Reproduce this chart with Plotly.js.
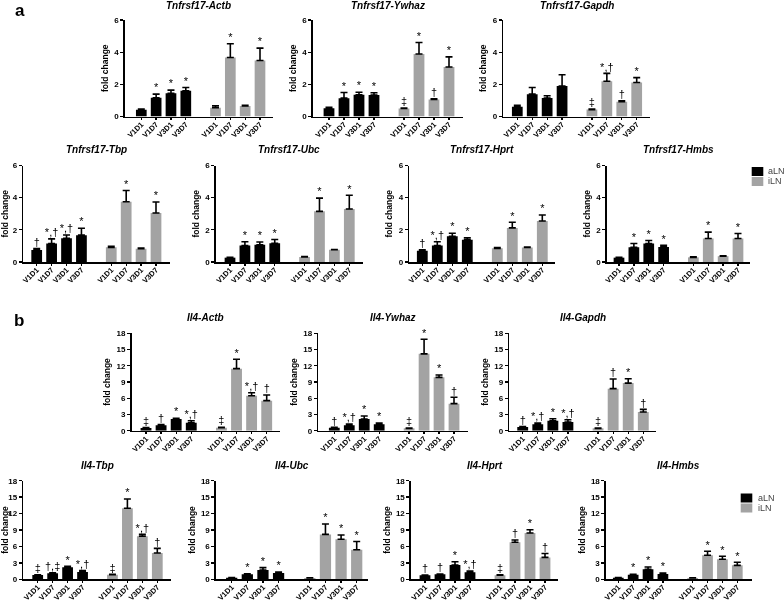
<!DOCTYPE html>
<html>
<head>
<meta charset="utf-8">
<script src="https://cdn.plot.ly/plotly-3.0.1.min.js"></script>
<style>html,body{margin:0;padding:0;background:#fff;}#chart{width:784px;height:601px;}#chart .main-svg{will-change:transform;}</style>
</head>
<body>
<div id="chart"></div>
<script>
// ---------- data ----------
const timepoints = ["V1D1", "V1D7", "V3D1", "V3D7"];
const groups = ["aLN", "iLN"];

// Panel a: Tnfrsf17 (order: aLN V1D1..V3D7, iLN V1D1..V3D7)
const tnfActbMean  = [0.42, 1.16, 1.45, 1.60, 0.54, 3.67, 0.66, 3.48];
const tnfActbErr   = [0.04, 0.23, 0.19, 0.20, 0.12, 0.85, 0.03, 0.77];
const tnfActbSig   = ["", "*", "*", "*", "", "*", "", "*"];

const tnfYwhazMean = [0.52, 1.14, 1.35, 1.33, 0.50, 3.89, 1.06, 3.08];
const tnfYwhazErr  = [0.05, 0.35, 0.16, 0.15, 0.03, 0.71, 0.04, 0.63];
const tnfYwhazSig  = ["", "*", "*", "*", "‡", "*", "†", "*"];

const tnfGapdhMean = [0.60, 1.39, 1.15, 1.90, 0.43, 2.19, 0.92, 2.11];
const tnfGapdhErr  = [0.10, 0.41, 0.14, 0.70, 0.03, 0.49, 0.05, 0.31];
const tnfGapdhSig  = ["", "", "", "", "‡", "*,†", "†", "*"];

const tnfTbpMean   = [0.74, 1.15, 1.48, 1.67, 0.91, 3.75, 0.82, 3.05];
const tnfTbpErr    = [0.10, 0.29, 0.20, 0.43, 0.06, 0.70, 0.04, 0.68];
const tnfTbpSig    = ["†", "*,†", "*,†", "*", "", "*", "", "*"];

const tnfUbcMean   = [0.27, 1.03, 1.07, 1.17, 0.31, 3.15, 0.76, 3.30];
const tnfUbcErr    = [0.03, 0.23, 0.17, 0.23, 0.03, 0.82, 0.02, 0.85];
const tnfUbcSig    = ["", "*", "*", "*", "", "*", "", "*"];

const tnfHprtMean  = [0.70, 1.03, 1.60, 1.38, 0.85, 2.12, 0.90, 2.55];
const tnfHprtErr   = [0.06, 0.23, 0.19, 0.12, 0.05, 0.35, 0.03, 0.37];
const tnfHprtSig   = ["†", "*,†", "*", "*", "", "*", "", "*"];

const tnfHmbsMean  = [0.27, 0.92, 1.15, 0.94, 0.29, 1.46, 0.36, 1.46];
const tnfHmbsErr   = [0.03, 0.23, 0.19, 0.10, 0.03, 0.40, 0.02, 0.31];
const tnfHmbsSig   = ["", "*", "*", "*", "", "*", "", "*"];

// Panel b: Il4
const il4ActbMean  = [0.49, 1.00, 2.16, 1.48, 0.55, 11.47, 6.47, 5.55];
const il4ActbErr   = [0.10, 0.15, 0.15, 0.37, 0.10, 1.73, 0.55, 1.05];
const il4ActbSig   = ["‡", "†", "*", "*,†", "‡", "*", "*,†", "†"];

const il4YwhazMean = [0.55, 1.00, 2.16, 1.17, 0.43, 14.20, 9.86, 5.00];
const il4YwhazErr  = [0.06, 0.25, 0.55, 0.25, 0.06, 2.70, 0.43, 1.17];
const il4YwhazSig  = ["†", "*,†", "*", "*", "‡", "*", "*", "†"];

const il4GapdhMean = [0.68, 1.17, 1.85, 1.60, 0.43, 7.77, 8.80, 3.45];
const il4GapdhErr  = [0.10, 0.25, 0.37, 0.43, 0.05, 1.78, 0.80, 0.50];
const il4GapdhSig  = ["†", "*,†", "*", "*,†", "‡", "†", "*", "†"];

const il4TbpMean   = [0.79, 1.10, 2.19, 1.34, 0.85, 12.96, 7.85, 4.80];
const il4TbpErr    = [0.05, 0.10, 0.18, 0.24, 0.06, 1.70, 0.36, 0.85];
const il4TbpSig    = ["‡", "†,‡", "*", "*,†", "‡", "*", "*,†", "†"];

const il4UbcMean   = [0.30, 0.91, 1.70, 1.16, 0.24, 8.20, 7.30, 5.40];
const il4UbcErr    = [0.03, 0.10, 0.43, 0.18, 0.03, 1.90, 0.80, 1.50];
const il4UbcSig    = ["", "*", "*", "*", "", "*", "*", "*"];

const il4HprtMean  = [0.73, 0.91, 2.60, 1.28, 0.73, 6.75, 8.45, 4.00];
const il4HprtErr   = [0.06, 0.05, 0.60, 0.24, 0.10, 0.43, 0.60, 0.70];
const il4HprtSig   = ["†", "†", "*", "*,†", "‡", "†", "*", "†"];

const il4HmbsMean  = [0.30, 0.85, 1.82, 0.97, 0.24, 4.38, 3.65, 2.55];
const il4HmbsErr   = [0.03, 0.07, 0.43, 0.18, 0.02, 0.73, 0.55, 0.55];
const il4HmbsSig   = ["", "*", "*", "*", "", "*", "*", "*"];

const panelLetters = ["a", "b"];

// ---------- layout geometry (pixels) ----------
const W = 784, H = 601;
const groupColors = {aLN: "#000000", iLN: "#a3a3a3"};
const FONT = "Liberation Sans, Arial, sans-serif";

const rows = {
  a1: {top: 20,    bottom: 116.5, max: 6,  dtick: 2, titleY: 5.5},
  a2: {top: 165.5, bottom: 262,   max: 6,  dtick: 2, titleY: 149.5},
  b1: {top: 333.3, bottom: 430.7, max: 18, dtick: 3, titleY: 317.5},
  b2: {top: 480.7, bottom: 579.3, max: 18, dtick: 3, titleY: 465.5}
};

const panels = [
  {title: "Tnfrsf17-Actb",  mean: tnfActbMean,  err: tnfActbErr,  sig: tnfActbSig,  row: "a1", x0: 125,   x1: 272.7, f: 141.3, l: 260},
  {title: "Tnfrsf17-Ywhaz", mean: tnfYwhazMean, err: tnfYwhazErr, sig: tnfYwhazSig, row: "a1", x0: 313,   x1: 463,   f: 329,   l: 449},
  {title: "Tnfrsf17-Gapdh", mean: tnfGapdhMean, err: tnfGapdhErr, sig: tnfGapdhSig, row: "a1", x0: 503.3, x1: 650,   f: 517.3, l: 636.7},
  {title: "Tnfrsf17-Tbp",   mean: tnfTbpMean,   err: tnfTbpErr,   sig: tnfTbpSig,   row: "a2", x0: 23.3,  x1: 170,   f: 36.7,  l: 156},
  {title: "Tnfrsf17-Ubc",   mean: tnfUbcMean,   err: tnfUbcErr,   sig: tnfUbcSig,   row: "a2", x0: 216,   x1: 362.7, f: 230,   l: 349.3},
  {title: "Tnfrsf17-Hprt",  mean: tnfHprtMean,  err: tnfHprtErr,  sig: tnfHprtSig,  row: "a2", x0: 409.3, x1: 555,   f: 422.3, l: 542.3},
  {title: "Tnfrsf17-Hmbs",  mean: tnfHmbsMean,  err: tnfHmbsErr,  sig: tnfHmbsSig,  row: "a2", x0: 607,   x1: 750,   f: 619,   l: 738},
  {title: "Il4-Actb",       mean: il4ActbMean,  err: il4ActbErr,  sig: il4ActbSig,  row: "b1", x0: 131.7, x1: 280,   f: 146,   l: 266.7},
  {title: "Il4-Ywhaz",      mean: il4YwhazMean, err: il4YwhazErr, sig: il4YwhazSig, row: "b1", x0: 318.3, x1: 467.7, f: 334.3, l: 454},
  {title: "Il4-Gapdh",      mean: il4GapdhMean, err: il4GapdhErr, sig: il4GapdhSig, row: "b1", x0: 509.3, x1: 656,   f: 522.7, l: 643.3},
  {title: "Il4-Tbp",        mean: il4TbpMean,   err: il4TbpErr,   sig: il4TbpSig,   row: "b2", x0: 23.3,  x1: 170.7, f: 37.7,  l: 157.3},
  {title: "Il4-Ubc",        mean: il4UbcMean,   err: il4UbcErr,   sig: il4UbcSig,   row: "b2", x0: 216,   x1: 368.3, f: 231.7, l: 356.7},
  {title: "Il4-Hprt",       mean: il4HprtMean,  err: il4HprtErr,  sig: il4HprtSig,  row: "b2", x0: 411,   x1: 558,   f: 425,   l: 545},
  {title: "Il4-Hmbs",       mean: il4HmbsMean,  err: il4HmbsErr,  sig: il4HmbsSig,  row: "b2", x0: 606,   x1: 751.7, f: 618.3, l: 737.3}
];

// category keys (unique per group) with a spacer between groups
const keys = [];
const keyGroup = [];
const keyLabel = [];
groups.forEach(g => timepoints.forEach(t => { keys.push(g + " " + t); keyGroup.push(g); keyLabel.push(t); }));
const spacer = "spacer";
const categoryOrder = keys.slice(0, 4).concat([spacer], keys.slice(4));

const traces = [];
const layout = {
  width: W, height: H,
  margin: {l: 0, r: 0, t: 0, b: 0},
  paper_bgcolor: "#ffffff", plot_bgcolor: "rgba(0,0,0,0)",
  showlegend: false,
  barmode: "overlay",
  bargap: 0.28,
  font: {family: FONT, color: "#000"},
  annotations: [],
  shapes: []
};

panels.forEach((p, i) => {
  const n = i + 1;
  const xa = "x" + (n === 1 ? "" : n), ya = "y" + (n === 1 ? "" : n);
  const xName = "xaxis" + (n === 1 ? "" : n), yName = "yaxis" + (n === 1 ? "" : n);
  const r = rows[p.row];
  const w = (p.l - p.f) / 8;

  // spacer category registration (no visible mark)
  traces.push({type: "scatter", mode: "none", x: [spacer], y: [null], xaxis: xa, yaxis: ya, hoverinfo: "skip", showlegend: false});

  traces.push({
    type: "bar", x: keys, y: p.mean, xaxis: xa, yaxis: ya,
    marker: {color: keyGroup.map(g => groupColors[g]), line: {width: 0}},
    error_y: {type: "data", symmetric: false, array: p.err, arrayminus: p.err.map(() => 0),
              color: "#000", thickness: 1.6, width: 3.5},
    showlegend: false, hoverinfo: "x+y"
  });

  traces.push({
    type: "scatter", mode: "text", x: keys, y: p.mean.map((m, j) => m + p.err[j]),
    text: p.sig, textposition: "top center",
    textfont: {family: FONT, size: 11, color: "#000000"},
    xaxis: xa, yaxis: ya, cliponaxis: false, hoverinfo: "skip", showlegend: false
  });

  layout[xName] = {
    domain: [p.x0 / W, p.x1 / W], anchor: ya,
    type: "category", categoryorder: "array", categoryarray: categoryOrder,
    range: [-(p.f - p.x0) / w, 8 + (p.x1 - p.l) / w],
    tickvals: keys, ticktext: keyLabel, tickangle: -45,
    ticks: "outside", ticklen: 2, tickwidth: 1.3, tickcolor: "#000",
    ticklabelstandoff: -3,
    showline: true, linewidth: 1.6, linecolor: "#000",
    showgrid: false, zeroline: false, fixedrange: true,
    tickfont: {family: FONT, size: 7.5, weight: "bold", color: "#000"}
  };
  layout[yName] = {
    domain: [1 - r.bottom / H, 1 - r.top / H], anchor: xa,
    range: [0, r.max], dtick: r.dtick, tick0: 0,
    ticks: "outside", ticklen: 3, tickwidth: 1.3, tickcolor: "#000",
    showline: true, linewidth: 1.6, linecolor: "#000",
    showgrid: false, zeroline: false, fixedrange: true,
    tickfont: {family: FONT, size: 8, weight: "bold", color: "#000"},
    title: {text: "fold change", font: {family: FONT, size: 8.5, weight: "bold", color: "#000"}, standoff: 4}
  };

  layout.annotations.push({
    text: p.title, xref: "paper", yref: "paper",
    x: ((p.x0 + p.x1) / 2) / W, y: 1 - r.titleY / H,
    xanchor: "center", yanchor: "middle", showarrow: false,
    font: {family: FONT, size: 10, weight: "bold", style: "italic", color: "#000"}
  });
});

// panel letters
[[panelLetters[0], 20, 11], [panelLetters[1], 19, 320]].forEach(([t, x, y]) => {
  layout.annotations.push({text: t, xref: "paper", yref: "paper", x: x / W, y: 1 - y / H,
    xanchor: "center", yanchor: "middle", showarrow: false,
    font: {family: FONT, size: 17, weight: "bold", color: "#000"}});
});

// legends (one per panel)
[{sx: 751.7, sy: 167, tx: 766}, {sx: 740.7, sy: 493.5, tx: 756}].forEach(L => {
  groups.forEach((g, k) => {
    const y0 = L.sy + k * 10, y1 = y0 + 9;
    layout.shapes.push({type: "rect", xref: "paper", yref: "paper",
      x0: L.sx / W, x1: (L.sx + 11.6) / W, y0: 1 - y1 / H, y1: 1 - y0 / H,
      fillcolor: groupColors[g], line: {width: 0}});
    layout.annotations.push({text: g, xref: "paper", yref: "paper",
      x: L.tx / W, y: 1 - (y0 + 4.5) / H, xanchor: "left", yanchor: "middle", showarrow: false,
      font: {family: FONT, size: 9, color: "#444"}});
  });
});

Plotly.newPlot("chart", traces, layout, {displayModeBar: false, staticPlot: true});
</script>
</body>
</html>
